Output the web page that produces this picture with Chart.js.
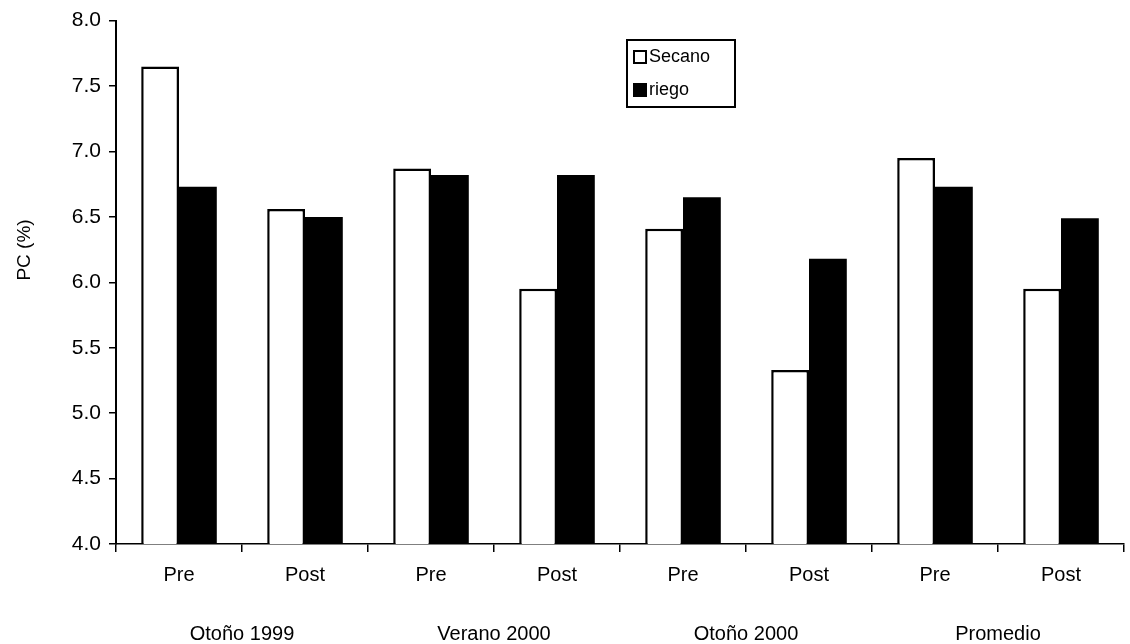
<!DOCTYPE html>
<html>
<head>
<meta charset="utf-8">
<script src="https://cdn.jsdelivr.net/npm/chart.js@4"></script>
<style>
  html, body { margin: 0; padding: 0; background: #fff; }
  #wrap { width: 1130px; height: 644px; }
</style>
</head>
<body>
<div id="wrap"><canvas id="chart" width="1130" height="644"></canvas></div>
<script>
// data
const periods = ['Pre', 'Post', 'Pre', 'Post', 'Pre', 'Post', 'Pre', 'Post'];
const seasons = ['Otoño 1999', 'Verano 2000', 'Otoño 2000', 'Promedio'];
const secano = [7.65, 6.56, 6.87, 5.95, 6.41, 5.33, 6.95, 5.95];
const riego = [6.73, 6.50, 6.82, 6.82, 6.65, 6.18, 6.73, 6.49];
const yTicks = [4.0, 4.5, 5.0, 5.5, 6.0, 6.5, 7.0, 7.5, 8.0];
const yTitle = 'PC (%)';

const FONT = '"Liberation Sans", Arial, sans-serif';

// little legend box drawn inside the plot, like the original
const boxLegend = {
  id: 'boxLegend',
  afterDraw(chart) {
    const ctx = chart.ctx;
    const x = 627, y = 40, w = 108, h = 67;
    ctx.save();
    ctx.strokeStyle = '#000';
    ctx.lineWidth = 2;
    ctx.strokeRect(x, y, w, h);
    ctx.font = '18px ' + FONT;
    ctx.textBaseline = 'middle';
    chart.data.datasets.forEach((ds, i) => {
      const cy = y + 17 + i * 33;
      ctx.fillStyle = ds.backgroundColor;
      ctx.fillRect(x + 7, cy - 6, 12, 12);
      ctx.lineWidth = 2;
      ctx.strokeRect(x + 7, cy - 6, 12, 12);
      ctx.fillStyle = '#000';
      ctx.fillText(ds.label, x + 22, cy);
    });
    ctx.restore();
  }
};

// y title sits a bit above the middle in the original
const sideTitle = {
  id: 'sideTitle',
  afterDraw(chart) {
    const ctx = chart.ctx;
    ctx.save();
    ctx.translate(25, 250);
    ctx.rotate(-Math.PI / 2);
    ctx.font = '19px ' + FONT;
    ctx.fillStyle = '#000';
    ctx.textAlign = 'center';
    ctx.textBaseline = 'middle';
    ctx.fillText(yTitle, 0, 0);
    ctx.restore();
  }
};

new Chart(document.getElementById('chart'), {
  type: 'bar',
  data: {
    labels: periods,
    datasets: [
      { label: 'Secano', data: secano, backgroundColor: '#ffffff', borderColor: '#000', borderWidth: 2.5, xAxisID: 'x' },
      { label: 'riego', data: riego, backgroundColor: '#000000', borderColor: '#000', borderWidth: 0, xAxisID: 'x' }
    ]
  },
  options: {
    responsive: false,
    animation: false,
    layout: { padding: { top: 20, right: 6, left: 0, bottom: 0 } },
    categoryPercentage: 0.6,
    barPercentage: 1.0,
    plugins: { legend: { display: false }, tooltip: { enabled: false } },
    scales: {
      x: {
        type: 'category',
        position: 'bottom',
        weight: 1,
        grid: { offset: true, drawOnChartArea: false, drawTicks: true, tickLength: 8, color: '#000', lineWidth: 1.5 },
        border: { color: '#000', width: 1.5 },
        ticks: { color: '#000', font: { family: FONT, size: 20 }, padding: 11, maxRotation: 0 },
        afterFit(s) { s.height = 60; }
      },
      x2: {
        type: 'category',
        position: 'bottom',
        weight: 2,
        labels: seasons,
        offset: true,
        grid: { display: false },
        border: { display: false },
        ticks: { color: '#000', font: { family: FONT, size: 20 }, padding: 10, maxRotation: 0 },
        afterFit(s) { s.height = 40; }
      },
      y: {
        min: 4, max: 8,
        afterBuildTicks(s) { s.ticks = yTicks.map(v => ({ value: v })); },
        grid: { drawOnChartArea: false, drawTicks: true, tickLength: 7, color: '#000', lineWidth: 1.5 },
        border: { color: '#000', width: 2 },
        ticks: {
          color: '#000', font: { family: FONT, size: 21 }, padding: 8,
          callback: v => Number(v).toFixed(1)
        },
        afterFit(s) { s.width = 116; }
      }
    }
  },
  plugins: [boxLegend, sideTitle]
});
</script>
</body>
</html>
